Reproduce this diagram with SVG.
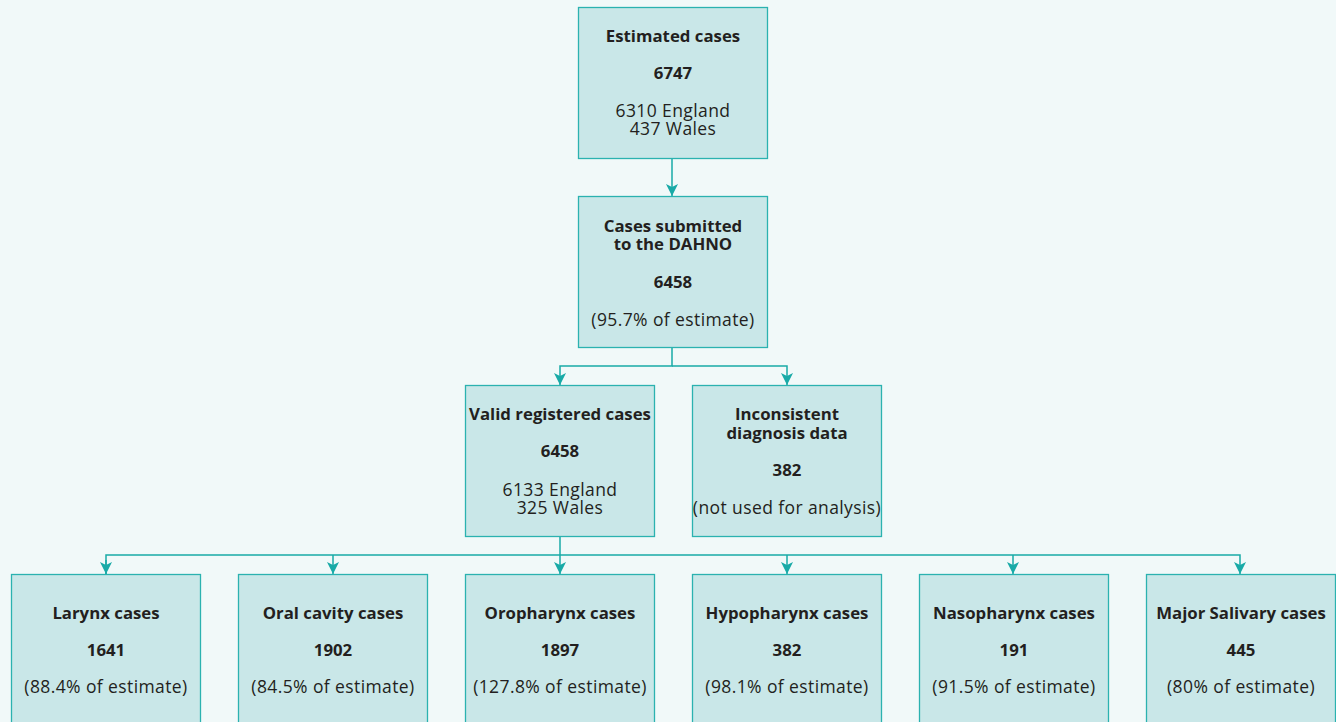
<svg xmlns="http://www.w3.org/2000/svg" width="1336" height="722" viewBox="0 0 1336 722">
<style>
.bg{fill:#f1f9f9}
.box{fill:#c9e7e8;stroke:#2bb2b0;stroke-width:1.3}
.t{font-family:"Open Sans","Noto Sans",sans-serif;font-size:17.5px;letter-spacing:0.4px;fill:#231f20;text-anchor:middle}
.b{font-weight:bold;font-size:16.8px;letter-spacing:0}
.c{fill:none;stroke:#19aaa7;stroke-width:1.5}
</style>
<defs>
<marker id="ah" markerWidth="14" markerHeight="14" refX="12" refY="7" orient="auto" markerUnits="userSpaceOnUse">
<path d="M0,1 L12,7 L0,13 L3,7 Z" fill="#19aaa7"/>
</marker>
</defs>
<rect class="bg" x="0" y="0" width="1336" height="722"/>
<g id="connectors">
<path class="c" d="M672,158 V196" marker-end="url(#ah)"/>
<path class="c" d="M672,347 V366 H560 V385" marker-end="url(#ah)"/>
<path class="c" d="M672,366 H787 V385" marker-end="url(#ah)"/>
<path class="c" d="M560,536 V574" marker-end="url(#ah)"/>
<path class="c" d="M106,574 V555 H1240 V574" marker-end="url(#ah)"/>
<path class="c" d="M333,555 V574" marker-end="url(#ah)"/>
<path class="c" d="M787,555 V574" marker-end="url(#ah)"/>
<path class="c" d="M1013,555 V574" marker-end="url(#ah)"/>
<path class="c" d="M106,560 V574" marker-end="url(#ah)"/>
</g>
<g id="estimated">
<rect class="box" x="578.5" y="7.5" width="189" height="151"/>
<text class="t b" x="673" y="42">Estimated cases</text>
<text class="t b" x="673" y="79">6747</text>
<text class="t" x="673" y="117">6310 England</text>
<text class="t" x="673" y="135">437 Wales</text>
</g>
<g id="submitted">
<rect class="box" x="578.5" y="196.5" width="189" height="151"/>
<text class="t b" x="673" y="232">Cases submitted</text>
<text class="t b" x="673" y="250">to the DAHNO</text>
<text class="t b" x="673" y="288">6458</text>
<text class="t" x="673" y="326">(95.7% of estimate)</text>
</g>
<g id="valid">
<rect class="box" x="465.5" y="385.5" width="189" height="151"/>
<text class="t b" x="560" y="420">Valid registered cases</text>
<text class="t b" x="560" y="457">6458</text>
<text class="t" x="560" y="496">6133 England</text>
<text class="t" x="560" y="514">325 Wales</text>
</g>
<g id="inconsistent">
<rect class="box" x="692.5" y="385.5" width="189" height="151"/>
<text class="t b" x="787" y="420">Inconsistent</text>
<text class="t b" x="787" y="439">diagnosis data</text>
<text class="t b" x="787" y="476">382</text>
<text class="t" x="787" y="514">(not used for analysis)</text>
</g>
<g id="larynx">
<rect class="box" x="11.5" y="574.5" width="189" height="160"/>
<text class="t b" x="106" y="619">Larynx cases</text>
<text class="t b" x="106" y="656">1641</text>
<text class="t" x="106" y="693">(88.4% of estimate)</text>
</g>
<g id="oral">
<rect class="box" x="238.5" y="574.5" width="189" height="160"/>
<text class="t b" x="333" y="619">Oral cavity cases</text>
<text class="t b" x="333" y="656">1902</text>
<text class="t" x="333" y="693">(84.5% of estimate)</text>
</g>
<g id="oropharynx">
<rect class="box" x="465.5" y="574.5" width="189" height="160"/>
<text class="t b" x="560" y="619">Oropharynx cases</text>
<text class="t b" x="560" y="656">1897</text>
<text class="t" x="560" y="693">(127.8% of estimate)</text>
</g>
<g id="hypopharynx">
<rect class="box" x="692.5" y="574.5" width="189" height="160"/>
<text class="t b" x="787" y="619">Hypopharynx cases</text>
<text class="t b" x="787" y="656">382</text>
<text class="t" x="787" y="693">(98.1% of estimate)</text>
</g>
<g id="nasopharynx">
<rect class="box" x="919.5" y="574.5" width="189" height="160"/>
<text class="t b" x="1014" y="619">Nasopharynx cases</text>
<text class="t b" x="1014" y="656">191</text>
<text class="t" x="1014" y="693">(91.5% of estimate)</text>
</g>
<g id="salivary">
<rect class="box" x="1146.5" y="574.5" width="189" height="160"/>
<text class="t b" x="1241" y="619">Major Salivary cases</text>
<text class="t b" x="1241" y="656">445</text>
<text class="t" x="1241" y="693">(80% of estimate)</text>
</g>
</svg>
